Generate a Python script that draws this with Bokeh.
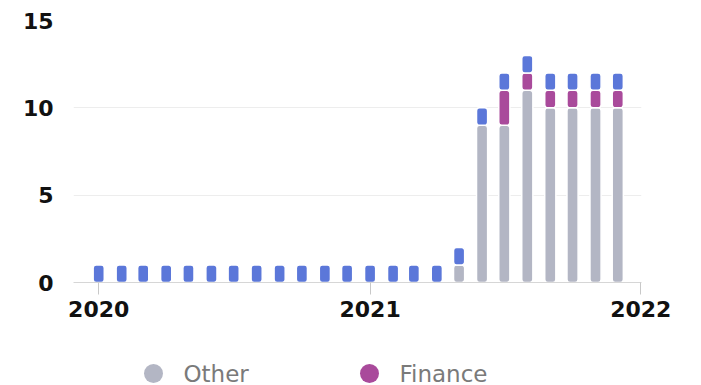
import datetime as dt
from bokeh.plotting import figure
from bokeh.layouts import column
from bokeh.core.properties import value
from bokeh.models import (ColumnDataSource, FixedTicker, DatetimeTickFormatter, Range1d)
from bokeh.embed import file_html
from bokeh.resources import INLINE

months = [dt.datetime(2020 + i // 12, i % 12 + 1, 1) for i in range(24)]
other = [0]*16 + [1, 9, 9, 11, 10, 10, 10, 10]
finance = [0]*16 + [0, 0, 2, 1, 1, 1, 1, 1]
blue = [1]*24
year_ticks = [2020, 2021, 2022]
y_ticks = [0, 5, 10, 15]
legend_labels = ["Other", "Finance"]

C_OTHER = "#B3B6C4"
C_FIN = "#A94A9B"
C_BLUE = "#5B77D9"

def ms(d):
    return (d - dt.datetime(1970, 1, 1)).total_seconds() * 1000

src = ColumnDataSource(dict(
    x=months,
    o0=[0]*24, o1=other,
    f0=other, f1=[a + b for a, b in zip(other, finance)],
    b0=[a + b for a, b in zip(other, finance)],
    b1=[a + b + c for a, b, c in zip(other, finance, blue)],
))

p = figure(width=701, height=345, x_axis_type="datetime",
           output_backend="svg", toolbar_location=None,
           min_border_left=73, min_border_right=60, min_border_top=20,
           min_border_bottom=63)
p.x_range = Range1d(ms(dt.datetime(2019, 11, 28)), ms(dt.datetime(2022, 1, 2)))
p.y_range = Range1d(0, 15)

w = 15 * 86400000
kw = dict(width=w, line_color="white", line_width=1.5, border_radius=3, source=src)
p.vbar(x="x", bottom="o0", top="o1", fill_color=C_OTHER, **kw)
p.vbar(x="x", bottom="f0", top="f1", fill_color=C_FIN, **kw)
p.vbar(x="x", bottom="b0", top="b1", fill_color=C_BLUE, **kw)

p.outline_line_color = None
p.xgrid.grid_line_color = None
p.ygrid.grid_line_color = "#EDEDED"
p.ygrid.ticker = FixedTicker(ticks=y_ticks)

p.xaxis.ticker = FixedTicker(ticks=[ms(dt.datetime(y, 1, 1)) for y in year_ticks])
p.xaxis.formatter = DatetimeTickFormatter(years="%Y", months="%Y", days="%Y",
                                          hours="%Y", minutes="%Y", seconds="%Y",
                                          milliseconds="%Y")
p.xaxis.axis_line_color = "#D6D6D6"
p.xaxis.major_tick_line_color = "#C8C8C8"
p.xaxis.major_tick_in = 0
p.xaxis.major_tick_out = 12
p.xaxis.minor_tick_line_color = None
p.xaxis.major_label_text_font = "DejaVu Sans"
p.xaxis.major_label_text_font_style = "bold"
p.xaxis.major_label_text_font_size = "22px"
p.xaxis.major_label_text_color = "#111111"
p.xaxis.major_label_standoff = 6

p.yaxis.ticker = FixedTicker(ticks=y_ticks)
p.yaxis.axis_line_color = None
p.yaxis.major_tick_line_color = None
p.yaxis.minor_tick_line_color = None
p.yaxis.major_label_text_font = "DejaVu Sans"
p.yaxis.major_label_text_font_style = "bold"
p.yaxis.major_label_text_font_size = "22px"
p.yaxis.major_label_text_color = "#111111"
p.yaxis.major_label_standoff = 14

# legend strip (its frame is aligned with the chart frame: screen x 73..641)
lg = figure(width=701, height=40, output_backend="svg", toolbar_location=None,
            x_range=Range1d(73, 641), y_range=Range1d(0, 40),
            min_border=0, x_axis_location=None, y_axis_location=None)
lg.outline_line_color = None
lg.grid.visible = False
lg.scatter(x=[153, 369], y=[12, 12], size=19, marker="circle",
           fill_color=[C_OTHER, C_FIN], line_color=None)
lg.text(x=[183, 399], y=[12, 12], text=legend_labels, text_baseline="middle",
        text_font=value("DejaVu Sans"), text_font_size="23px", text_color="#7A7A7A")

open("out.html", "w").write(file_html(column(p, lg, spacing=0), INLINE))
